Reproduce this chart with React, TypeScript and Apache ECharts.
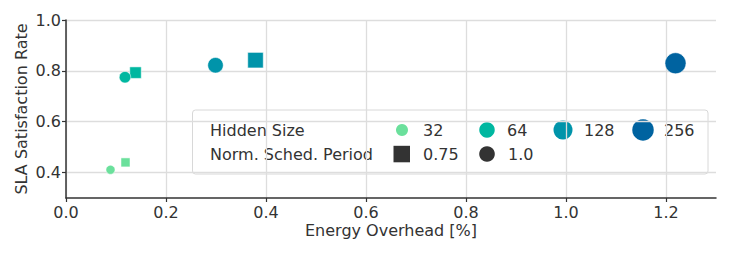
import React, { useEffect, useRef } from "react";
import * as echarts from "echarts";

const hiddenSizes = ["32", "64", "128", "256"];
const hiddenColors = ["#6be09c", "#00b7a0", "#0094aa", "#0063a0"];
const markerSizes = [9, 11.5, 15.5, 21];
const legendMarkerSizes = [12, 15.5, 19, 21.5];

const periodLabels = ["0.75", "1.0"];
const periodSymbols = ["rect", "circle"];

// Energy overhead [%] and SLA satisfaction per hidden size
const energyP075 = [0.119, 0.139, 0.379, null];
const slaP075 = [0.44, 0.793, 0.842, null];
const energyP10 = [0.089, 0.118, 0.299, 1.219];
const slaP10 = [0.411, 0.775, 0.822, 0.83];

const xTicks = [0, 0.2, 0.4, 0.6, 0.8, 1.0, 1.2];
const yTicks = [0.4, 0.6, 0.8, 1.0];

const FONT = "DejaVu Sans";
const FS = 16;
const TXT = "#333333";

export default function App() {
  const ref = useRef<HTMLDivElement>(null);
  useEffect(() => {
    if (!ref.current) return;
    const chart = echarts.init(ref.current, undefined, { renderer: "svg" });

    const series: any[] = [];
    const periodData = [
      [energyP075, slaP075],
      [energyP10, slaP10],
    ];
    periodData.forEach(([ex, sy], pi) => {
      hiddenSizes.forEach((h, hi) => {
        const x = ex[hi];
        const y = sy[hi];
        if (x == null || y == null) return;
        series.push({
          type: "scatter",
          name: h + "_" + periodLabels[pi],
          symbol: periodSymbols[pi],
          symbolSize: markerSizes[hi],
          data: [[x, y]],
          itemStyle: {
            color: hiddenColors[hi],
            borderColor: "#ffffff",
            borderWidth: 0.5,
            opacity: 1,
          },
          z: 3,
        });
      });
    });

    const legendX = 192.5;
    const legendY = 110;
    const legendW = 515.5;
    const legendH = 64;
    const row1 = 130;
    const row2 = 154;
    const markerXs = [402, 487, 563, 643];
    const labelXs = [423, 507, 584, 664];

    const legendChildren: any[] = [
      {
        type: "rect",
        shape: { x: legendX, y: legendY, width: legendW, height: legendH, r: 3 },
        style: { fill: "rgba(255,255,255,0.8)", stroke: "#d8d8d8", lineWidth: 1 },
      },
      {
        type: "text",
        x: 210,
        y: row1,
        style: { text: "Hidden Size", font: `${FS}px ${FONT}`, fill: TXT, verticalAlign: "middle" },
      },
      {
        type: "text",
        x: 210,
        y: row2,
        style: { text: "Norm. Sched. Period", font: `${FS}px ${FONT}`, fill: TXT, verticalAlign: "middle" },
      },
    ];
    hiddenSizes.forEach((h, i) => {
      legendChildren.push({
        type: "circle",
        shape: { cx: markerXs[i], cy: row1, r: legendMarkerSizes[i] / 2 },
        style: { fill: hiddenColors[i] },
      });
      legendChildren.push({
        type: "text",
        x: labelXs[i],
        y: row1,
        style: { text: h, font: `${FS}px ${FONT}`, fill: TXT, verticalAlign: "middle" },
      });
    });
    legendChildren.push({
      type: "rect",
      shape: { x: 393.5, y: row2 - 8.2, width: 16.5, height: 16.5 },
      style: { fill: "#333333" },
    });
    legendChildren.push({
      type: "text",
      x: 423,
      y: row2,
      style: { text: periodLabels[0], font: `${FS}px ${FONT}`, fill: TXT, verticalAlign: "middle" },
    });
    legendChildren.push({
      type: "circle",
      shape: { cx: 487, cy: row2, r: 7.8 },
      style: { fill: "#333333" },
    });
    legendChildren.push({
      type: "text",
      x: 508,
      y: row2,
      style: { text: periodLabels[1], font: `${FS}px ${FONT}`, fill: TXT, verticalAlign: "middle" },
    });

    const option: any = {
      animation: false,
      backgroundColor: "#ffffff",
      textStyle: { fontFamily: FONT },
      grid: { left: 66, right: 14, top: 20, bottom: 56, containLabel: false },
      xAxis: {
        type: "value",
        min: 0,
        max: 1.3,
        name: "Energy Overhead [%]",
        nameLocation: "middle",
        nameGap: 24,
        nameMoveOverlap: false,
        nameTextStyle: { fontSize: FS, color: TXT, fontFamily: FONT },
        axisLine: { show: true, onZero: false, lineStyle: { color: "#333333", width: 1.5 } },
        axisTick: { show: true, length: 4, customValues: xTicks, lineStyle: { color: "#333333", width: 1.2 } },
        axisLabel: {
          fontSize: FS,
          color: TXT,
          fontFamily: FONT,
          margin: 6,
          customValues: xTicks,
          formatter: (v: number) => v.toFixed(1),
        },
        splitLine: { show: true, lineStyle: { color: "#dddddd", width: 1.3 } },
      },
      yAxis: {
        type: "value",
        min: 0.3,
        max: 1.0,
        name: "SLA Satisfaction Rate",
        nameLocation: "middle",
        nameGap: 37,
        nameMoveOverlap: false,
        nameTextStyle: { fontSize: FS, color: TXT, fontFamily: FONT },
        axisLine: { show: true, onZero: false, lineStyle: { color: "#333333", width: 1.5 } },
        axisTick: { show: true, length: 4, customValues: yTicks, lineStyle: { color: "#333333", width: 1.2 } },
        axisLabel: {
          fontSize: FS,
          color: TXT,
          fontFamily: FONT,
          margin: 5,
          customValues: yTicks,
          formatter: (v: number) => v.toFixed(1),
        },
        splitLine: { show: true, lineStyle: { color: "#dddddd", width: 1.3 } },
      },
      series,
      graphic: [{ type: "group", z: 100, children: legendChildren }],
    };
    chart.setOption(option);
    return () => chart.dispose();
  }, []);

  return (
    <div
      ref={ref}
      style={{ position: "fixed", left: 0, top: 0, width: 730, height: 254, background: "#fff" }}
    />
  );
}
